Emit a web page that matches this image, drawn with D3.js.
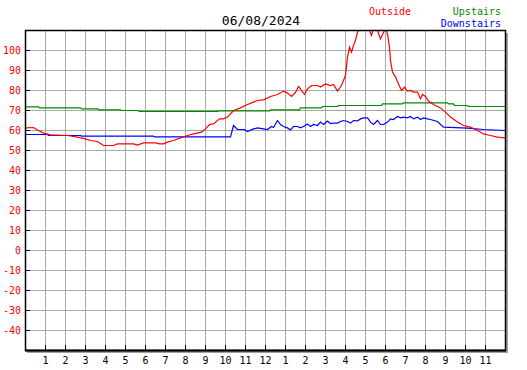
<!DOCTYPE html>
<html>
<head>
<meta charset="utf-8">
<script src="https://cdn.jsdelivr.net/npm/d3@7"></script>
<style>
  body { margin: 0; background: #fff; }
  text { font-family: "DejaVu Sans Mono", monospace; }
</style>
</head>
<body>
<div id="chart"></div>
<script>
var title = "06/08/2024";
var yTicks = [-40, -30, -20, -10, 0, 10, 20, 30, 40, 50, 60, 70, 80, 90, 100];
var xTicks = [1, 2, 3, 4, 5, 6, 7, 8, 9, 10, 11, 12, 13, 14, 15, 16, 17, 18, 19, 20, 21, 22, 23];
var xTickLabels = ["1","2","3","4","5","6","7","8","9","10","11","12","1","2","3","4","5","6","7","8","9","10","11"];

// hours of day / temperature
var outsideHours = [0, 0.4, 0.65, 0.9, 1.25, 2.1, 2.6, 3, 3.25, 3.6, 3.9, 4.4, 4.6, 5.4, 5.6, 5.9, 6.5, 6.7, 6.9, 7.1, 7.4, 7.75, 8.1, 8.4, 8.8, 9, 9.2, 9.4, 9.7, 9.9, 10.1, 10.4, 10.75, 11.1, 11.4, 11.6, 11.9, 12.25, 12.6, 12.9, 13.1, 13.3, 13.5, 13.65, 13.8, 13.95, 14.1, 14.3, 14.6, 14.75, 15, 15.25, 15.4, 15.6, 15.8, 16, 16.1, 16.2, 16.3, 16.4, 16.5, 16.6, 16.75, 17, 17.2, 17.3, 17.4, 17.6, 17.75, 17.85, 18, 18.1, 18.2, 18.25, 18.35, 18.5, 18.65, 18.8, 18.95, 19.1, 19.25, 19.4, 19.6, 19.75, 19.85, 20, 20.15, 20.4, 20.75, 21, 21.25, 21.6, 21.9, 22.25, 22.6, 22.9, 23.25, 23.6, 24];
var outsideValues = [61.3, 61.5, 60, 58.7, 57.8, 57.5, 56.7, 55.8, 55, 54.5, 52.5, 52.5, 53.3, 53.3, 52.7, 53.8, 53.8, 53.3, 53.3, 54.2, 55, 56.3, 57.5, 58.3, 59.2, 60.8, 63, 63.3, 65.8, 65.8, 66.7, 70, 71.3, 73, 74.2, 75, 75.3, 77, 78, 79.7, 78.7, 77, 79, 82, 80, 78, 80.8, 82.5, 82.5, 81.7, 83.3, 82.5, 83, 79.7, 82.5, 87.5, 96.7, 101.7, 99.2, 102.5, 105, 109.2, 111, 111, 110, 107.5, 111, 110, 105.8, 108, 111, 108.3, 101.7, 95, 89.2, 86.7, 83.3, 80, 81.7, 79.7, 80, 79.2, 79.2, 75.8, 78, 77, 74.7, 73, 71.3, 69.2, 66.7, 64.2, 62.5, 61.7, 60, 58.3, 57.5, 56.7, 56.3];

var upstairsHours = [0, 0.65, 0.7, 2.75, 2.8, 3.6, 3.7, 4.75, 4.8, 5.6, 5.7, 9.6, 9.7, 12.2, 12.25, 13.7, 13.75, 14.8, 14.85, 15.6, 15.65, 17.8, 17.85, 18.85, 18.9, 21.1, 21.15, 21.4, 21.45, 22.1, 22.15, 24];
var upstairsValues = [71.8, 71.8, 71.3, 71.3, 70.8, 70.8, 70.3, 70.3, 70, 70, 69.6, 69.6, 69.8, 69.8, 70.3, 70.3, 71.3, 71.3, 72, 72, 72.5, 72.5, 73.3, 73.3, 73.8, 73.8, 73.3, 73.3, 72.5, 72.5, 72, 72];

var downstairsHours = [0, 1.1, 1.15, 2.75, 2.8, 6.4, 6.45, 10.25, 10.4, 10.6, 10.95, 11.1, 11.4, 11.6, 11.9, 12.1, 12.3, 12.4, 12.6, 12.75, 12.9, 13.1, 13.25, 13.4, 13.6, 13.75, 13.9, 14.1, 14.25, 14.4, 14.6, 14.75, 14.9, 15.1, 15.25, 15.4, 15.6, 15.75, 15.9, 16.1, 16.25, 16.4, 16.6, 16.75, 16.9, 17.1, 17.25, 17.4, 17.6, 17.75, 17.9, 18.1, 18.25, 18.4, 18.6, 18.75, 18.9, 19.1, 19.25, 19.4, 19.6, 19.75, 19.9, 20.1, 20.25, 20.6, 20.9, 22.1, 22.9, 24];
var downstairsValues = [58, 58, 57.5, 57.5, 57.2, 57.2, 56.8, 56.8, 62.5, 60.5, 60.5, 59.5, 60.8, 61.3, 60.8, 60.5, 62, 61.5, 65, 63, 62, 61.3, 60.3, 62, 62, 61.3, 62, 63.3, 62, 63, 62.5, 64.2, 63, 64.7, 63.5, 63.7, 63.7, 64.5, 65, 64.5, 63.7, 65, 64.8, 65.8, 66.3, 66.3, 64.2, 63, 65, 63, 63, 64.2, 65.8, 65.5, 67, 66.3, 66.7, 66.3, 67, 65.8, 66.7, 65.5, 66.3, 65.8, 65.5, 64.5, 61.7, 61.2, 60.5, 60, 59.5, 58.7];

var legend = [
  { name: "Outside", color: "#ff0000", x: 390, y: 15, anchor: "middle" },
  { name: "Upstairs", color: "#008800", x: 501, y: 15, anchor: "end" },
  { name: "Downstairs", color: "#0000ff", x: 501, y: 27, anchor: "end" }
];

var width = 527;
var height = 370;
var plotLeft = 25, plotRight = 505, plotTop = 30, plotBottom = 350;

var svg = d3.select("#chart").append("svg")
  .attr("width", width).attr("height", height);

var x = d3.scaleLinear().domain([0, 24]).range([plotLeft, plotRight]);
var y = d3.scaleLinear().domain([-50, 110]).range([plotBottom, plotTop]);

// shadow
svg.append("rect").attr("x", plotRight + 1).attr("y", plotTop + 3)
  .attr("width", 2).attr("height", plotBottom - plotTop)
  .attr("fill", "#a0a0a0");
svg.append("rect").attr("x", plotLeft + 2).attr("y", plotBottom + 1)
  .attr("width", plotRight - plotLeft + 1).attr("height", 2)
  .attr("fill", "#a0a0a0");

// grid
svg.append("g").selectAll("line").data(xTicks).enter().append("line")
  .attr("x1", function(d) { return x(d) + 0.5; }).attr("x2", function(d) { return x(d) + 0.5; })
  .attr("y1", plotTop).attr("y2", plotBottom)
  .style("stroke", "#a8a8a8").style("stroke-width", 1);
svg.append("g").selectAll("line").data(yTicks).enter().append("line")
  .attr("y1", function(d) { return y(d) + 0.5; }).attr("y2", function(d) { return y(d) + 0.5; })
  .attr("x1", plotLeft).attr("x2", plotRight)
  .style("stroke", "#a8a8a8").style("stroke-width", 1);

// series
svg.append("clipPath").attr("id", "plot").append("rect")
  .attr("x", plotLeft).attr("y", plotTop)
  .attr("width", plotRight - plotLeft).attr("height", plotBottom - plotTop);

function drawSeries(hours, values, color) {
  var pts = hours.map(function(h, i) { return [h, values[i]]; });
  var line = d3.line()
    .x(function(d) { return x(d[0]) + 0.5; })
    .y(function(d) { return y(d[1]) + 0.5; });
  svg.append("path").datum(pts)
    .attr("clip-path", "url(#plot)")
    .attr("d", line)
    .style("fill", "none").style("stroke", color).style("stroke-width", 1.2);
}
drawSeries(upstairsHours, upstairsValues, "#008800");
drawSeries(downstairsHours, downstairsValues, "#0000ff");
drawSeries(outsideHours, outsideValues, "#ff0000");

// frame
svg.append("rect").attr("x", plotLeft + 0.5).attr("y", plotTop + 0.5)
  .attr("width", plotRight - plotLeft).attr("height", plotBottom - plotTop)
  .style("fill", "none").style("stroke", "#000").style("stroke-width", 1.5);
svg.append("line").attr("x1", plotLeft).attr("x2", plotRight + 1)
  .attr("y1", plotBottom + 0.5).attr("y2", plotBottom + 0.5)
  .style("stroke", "#000").style("stroke-width", 2);

// y ticks
svg.append("g").selectAll("line").data(yTicks).enter().append("line")
  .attr("x1", plotLeft).attr("x2", plotLeft + 5)
  .attr("y1", function(d) { return y(d) + 0.5; }).attr("y2", function(d) { return y(d) + 0.5; })
  .style("stroke", "#000").style("stroke-width", 1);
svg.append("g").selectAll("text").data(yTicks).enter().append("text")
  .attr("x", plotLeft - 4).attr("y", function(d) { return y(d) + 4; })
  .attr("text-anchor", "end").attr("fill", "#ff0000").style("font-size", "10px")
  .text(function(d) { return d; });

// x ticks
svg.append("g").selectAll("line").data(xTicks).enter().append("line")
  .attr("x1", function(d) { return x(d) + 0.5; }).attr("x2", function(d) { return x(d) + 0.5; })
  .attr("y1", plotBottom).attr("y2", plotBottom - 5)
  .style("stroke", "#000").style("stroke-width", 1);
svg.append("g").selectAll("text").data(xTicks).enter().append("text")
  .attr("x", function(d) { return x(d) + 0.5; }).attr("y", 364)
  .attr("text-anchor", "middle").attr("fill", "#000").style("font-size", "10px")
  .text(function(d, i) { return xTickLabels[i]; });

// title and legend
svg.append("text").attr("x", 261).attr("y", 25).attr("text-anchor", "middle")
  .style("font-size", "13px").attr("fill", "#000").text(title);
svg.append("g").selectAll("text").data(legend).enter().append("text")
  .attr("x", function(d) { return d.x; }).attr("y", function(d) { return d.y; })
  .attr("text-anchor", function(d) { return d.anchor; })
  .attr("fill", function(d) { return d.color; }).style("font-size", "10px")
  .text(function(d) { return d.name; });
</script>
</body>
</html>
